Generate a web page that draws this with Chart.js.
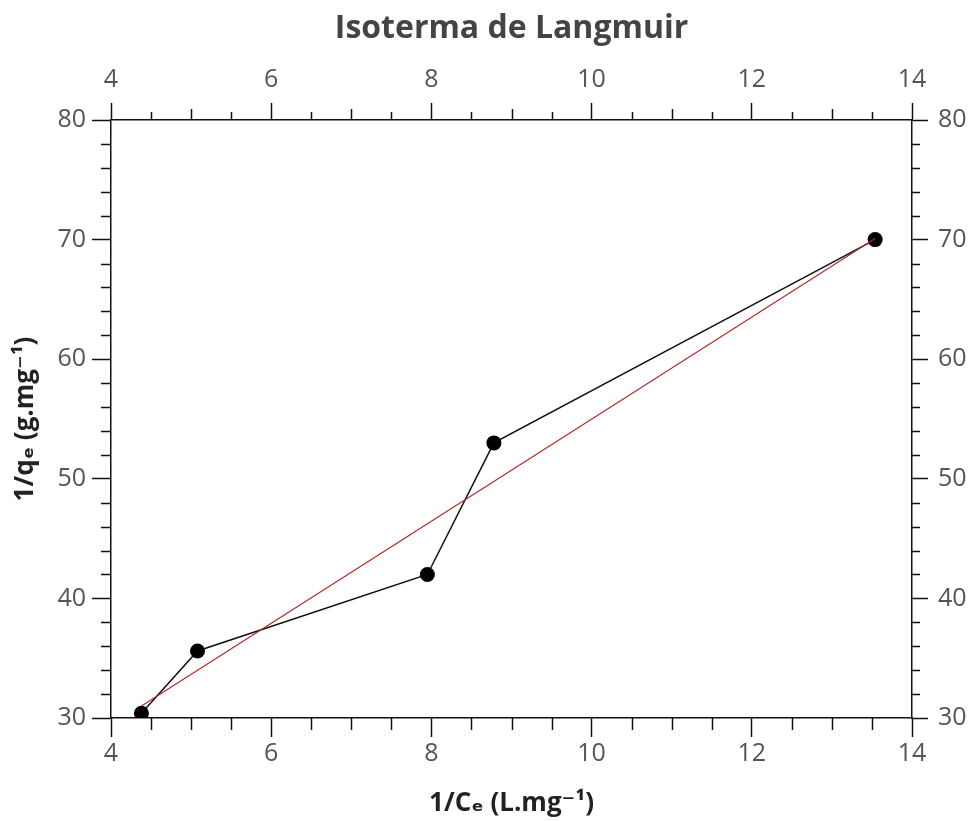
<!DOCTYPE html>
<html>
<head>
<meta charset="utf-8">
<title>Isoterma de Langmuir</title>
<script src="https://cdn.jsdelivr.net/npm/chart.js@4"></script>
<style>
  html, body { margin: 0; padding: 0; background: #fff; }
  #wrap { width: 976px; height: 821px; }
</style>
</head>
<body>
<div id="wrap"><canvas id="chart" width="976" height="821"></canvas></div>
<script>
// dados
const invCe = [4.38, 5.08, 7.95, 8.78, 13.54];      // 1/Ce (L.mg-1)
const invQe = [30.4, 35.6, 42.0, 53.0, 70.0];       // 1/qe (g.mg-1)
const fitX = [4.38, 13.54];                          // reta ajustada
const fitY = [31.0, 70.1];
const xTicks = [4, 6, 8, 10, 12, 14];
const yTicks = [30, 40, 50, 60, 70, 80];

const FONT = "'Open Sans', 'DejaVu Sans', sans-serif";
const AXIS = '#111';

const pts = invCe.map((x, i) => ({ x: x, y: invQe[i] }));
const fitPts = fitX.map((x, i) => ({ x: x, y: fitY[i] }));

// ticks menores desenhados com as escalas do próprio Chart.js
const minorTicks = {
  id: 'minorTicks',
  afterDraw(chart) {
    const ctx = chart.ctx;
    const { top, bottom, left, right } = chart.chartArea;
    const sx = chart.scales.x, sy = chart.scales.y;
    ctx.save();
    ctx.strokeStyle = AXIS;
    ctx.lineWidth = 1.5;
    ctx.beginPath();
    for (let v = 4.5; v < 14; v += 0.5) {
      if (v % 2 === 0) continue;
      const px = Math.round(sx.getPixelForValue(v)) + 0.5;
      const topLen = (v % 1 === 0) ? 11 : 8;
      ctx.moveTo(px, bottom); ctx.lineTo(px, bottom + 12);
      ctx.moveTo(px, top); ctx.lineTo(px, top - topLen);
    }
    for (let v = 32; v < 80; v += 2) {
      if (v % 10 === 0) continue;
      const py = Math.round(sy.getPixelForValue(v)) + 0.5;
      ctx.moveTo(left, py); ctx.lineTo(left - 10, py);
      ctx.moveTo(right, py); ctx.lineTo(right + 8, py);
    }
    ctx.stroke();
    ctx.restore();
  }
};

function tickCfg(size, pad) {
  return {
    color: '#555',
    font: { family: FONT, size: size },
    padding: pad,
    stepSize: 2,
    autoSkip: false,
    maxRotation: 0
  };
}

function gridCfg(len) {
  return {
    display: true,
    drawOnChartArea: false,
    drawTicks: true,
    tickLength: len,
    tickColor: AXIS,
    tickWidth: 1.5
  };
}

const border = { display: true, color: AXIS, width: 1.5 };

new Chart(document.getElementById('chart'), {
  type: 'scatter',
  data: {
    datasets: [
      {
        label: 'ajuste',
        data: fitPts,
        showLine: true,
        borderColor: '#b22a2a',
        borderWidth: 1.2,
        pointRadius: 0,
        order: 0,
        clip: 0
      },
      {
        label: 'dados',
        data: pts,
        showLine: true,
        borderColor: '#111',
        borderWidth: 1.5,
        pointRadius: 7.5,
        pointBackgroundColor: '#000',
        pointBorderColor: '#000',
        pointBorderWidth: 0,
        order: 1,
        clip: 0
      }
    ]
  },
  options: {
    responsive: false,
    animation: false,
    devicePixelRatio: 1,
    layout: { padding: 0 },
    plugins: {
      legend: { display: false },
      tooltip: { enabled: false },
      title: { display: false }
    },
    scales: {
      x: {
        type: 'linear', position: 'bottom', min: 4, max: 14,
        ticks: Object.assign(tickCfg(25, 2), { callback: v => xTicks.includes(v) ? v : null }),
        grid: gridCfg(19), border: border,
        title: {
          display: true, text: '1/Cₑ (L.mg⁻¹)', color: '#222',
          font: { family: FONT, size: 26, weight: 'bold' },
          padding: { top: 0, bottom: 2 }
        },
        afterFit: s => { s.height = 103; }
      },
      x2: {
        type: 'linear', position: 'top', min: 4, max: 14,
        ticks: Object.assign(tickCfg(25, 8), { callback: v => xTicks.includes(v) ? v : null }),
        grid: gridCfg(17), border: border,
        // o título do gráfico fica centrado sobre a área do gráfico
        title: {
          display: true, text: 'Isoterma de Langmuir', color: '#444',
          font: { family: FONT, size: 32, weight: 'bold' },
          padding: { top: 10, bottom: 0 }
        },
        afterFit: s => { s.height = 120; }
      },
      y: {
        type: 'linear', position: 'left', min: 30, max: 80,
        ticks: Object.assign(tickCfg(25, 6), { stepSize: 10, callback: v => yTicks.includes(v) ? v : null }),
        grid: gridCfg(19), border: border,
        title: {
          display: true, text: '1/qₑ (g.mg⁻¹)', color: '#222',
          font: { family: FONT, size: 26, weight: 'bold' },
          padding: { top: 10, bottom: 0 }
        },
        afterFit: s => { s.width = 111; }
      },
      y2: {
        type: 'linear', position: 'right', min: 30, max: 80,
        ticks: Object.assign(tickCfg(25, 10), { stepSize: 10, callback: v => yTicks.includes(v) ? v : null }),
        grid: gridCfg(16), border: border,
        afterFit: s => { s.width = 64; }
      }
    }
  },
  plugins: [minorTicks]
});
</script>
</body>
</html>
